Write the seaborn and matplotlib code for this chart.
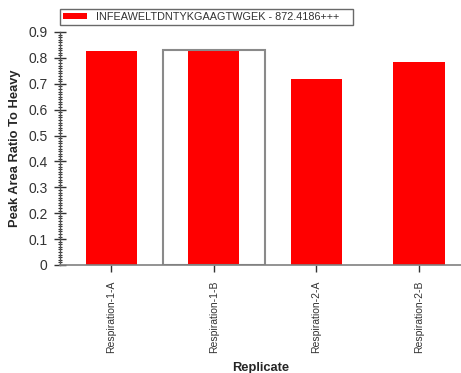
import matplotlib
matplotlib.use("Agg")
import matplotlib.pyplot as plt
import seaborn as sns
import numpy as np
from matplotlib.ticker import MultipleLocator

replicates = ["Respiration-1-A", "Respiration-1-B", "Respiration-2-A", "Respiration-2-B"]
ratios = [0.826, 0.829, 0.720, 0.786]
series_label = "INFEAWELTDNTYKGAAGTWGEK - 872.4186+++"
selected = "Respiration-1-B"

sns.set_theme(style="white")
plt.rcParams['font.family'] = ['Liberation Sans', 'DejaVu Sans']

fig = plt.figure(figsize=(4.61, 3.73), dpi=100)
ax = fig.add_axes([60/461, (373-265)/373, 1 - 60/461, (265-32)/373])

sns.barplot(x=replicates, y=ratios, color="#ff0000", saturation=1, width=0.5,
            ax=ax, label=series_label, edgecolor="none", linewidth=0)

# selection outline around the selected replicate
si = replicates.index(selected)
ax.bar([si], [ratios[si] + 0.002], width=1.0, facecolor="none", edgecolor="#8a8a8a",
       linewidth=1.5, zorder=1)

ax.set_ylim(0, 0.9)
ax.set_xlim(-0.5, 3.41)
ax.yaxis.set_major_locator(MultipleLocator(0.1))
ax.yaxis.set_minor_locator(MultipleLocator(0.01))
ax.set_yticks(np.arange(0, 0.91, 0.1))
ax.set_yticklabels(["0"] + [f"{v:.1f}" for v in np.arange(0.1, 0.91, 0.1)])
ax.tick_params(axis="y", which="major", direction="inout", length=8, width=1,
               color="#333333", labelsize=10, labelcolor="#333333", left=True, pad=5)
ax.tick_params(axis="y", which="minor", direction="inout", length=3.5, width=0.8,
               color="#333333", left=True)
ax.tick_params(axis="x", which="major", direction="out", length=5, width=1,
               color="#333333", labelsize=7.5, labelcolor="#333333", bottom=True,
               labelrotation=90, pad=6)

for s in ["top", "right"]:
    ax.spines[s].set_visible(False)
ax.spines["left"].set_color("#555555")
ax.spines["left"].set_linewidth(1)
ax.spines["bottom"].set_color("#808080")
ax.spines["bottom"].set_linewidth(1.2)

ax.set_ylabel("Peak Area Ratio To Heavy", fontsize=9.3, fontweight="bold", labelpad=5)
ax.set_xlabel("Replicate", fontsize=9.3, fontweight="bold", labelpad=7)

leg = ax.legend(loc="lower left", bbox_to_anchor=(0.0, 1.03, 0.73, 0.08), mode="expand",
                fontsize=7.8, frameon=True, fancybox=False, borderpad=0.3,
                handlelength=2.2, handleheight=0.5, handletextpad=0.8, borderaxespad=0)
leg.get_frame().set_edgecolor("#444444")
leg.get_frame().set_linewidth(1)
for t in leg.get_texts():
    t.set_color("#333333")

fig.savefig("out.png", dpi=100)
